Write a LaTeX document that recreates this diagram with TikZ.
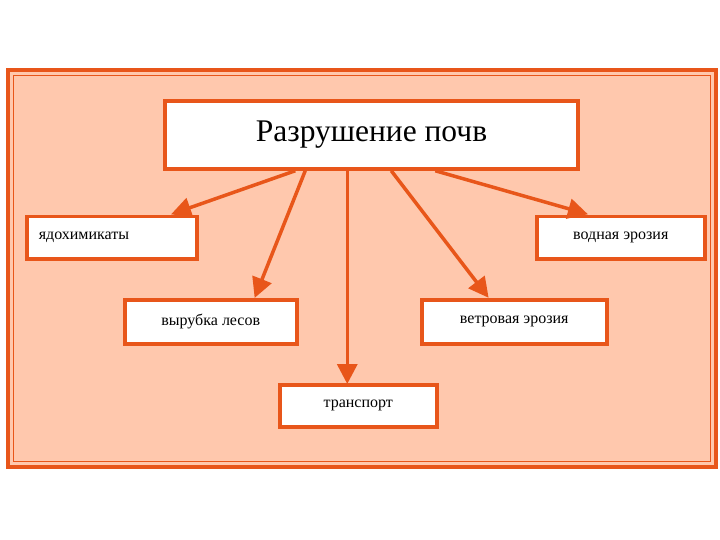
\documentclass[tikz,border=0pt]{standalone}
\usepackage{fontspec}
\setmainfont{Liberation Serif}
\usetikzlibrary{calc,arrows.meta}
\definecolor{peach}{HTML}{FFC8AD}
\definecolor{orng}{HTML}{E8561A}
\tikzset{
  box/.style={draw=orng, line width=3.5pt, fill=white, inner sep=0pt},
  small/.style={box, font=\fontsize{16}{18}\selectfont},
  arr/.style={draw=orng, line width=3.5pt, -{Triangle[length=20pt,width=20pt]}, shorten >=-1pt}
}
\begin{document}
\begin{tikzpicture}[x=1pt,y=-1pt]
\useasboundingbox (0,0) rectangle (720,540);
\fill[white] (0,0) rectangle (720,540);
\draw[orng, line width=3.5pt, fill=peach] (8,70) rectangle (716,467);
\draw[orng, line width=1.3pt] (13.5,75.5) rectangle (710.5,461.5);
\node[box, minimum width=413pt, minimum height=68pt, font=\fontsize{31.5}{34}\selectfont] (title) at (371.5,135) {Разрушение почв};
\node[small, minimum width=170pt, minimum height=42pt, anchor=north west, text width=146pt, align=left] (yad) at (25,215) {ядохимикаты};
\node[small, minimum width=168pt, minimum height=42pt, anchor=north west] (vod) at (535,215) {водная эрозия};
\node[small, minimum width=172pt, minimum height=44pt, anchor=north west] (vyr) at (123,298) {вырубка лесов};
\node[small, minimum width=185pt, minimum height=44pt, anchor=north west] (vet) at (420,298) {ветровая эрозия};
\node[small, minimum width=157pt, minimum height=42pt, anchor=north west] (tr) at (278,383) {транспорт};
\coordinate (s1) at ($(title.south west)+(132,0)$);
\coordinate (s2) at ($(title.south west)+(142,0)$);
\coordinate (s3) at ($(title.south west)+(184,0)$);
\coordinate (s4) at ($(title.south west)+(228,0)$);
\coordinate (s5) at ($(title.south west)+(272,0)$);
\draw[arr] (s1) -- ($(yad.north west)+(147,-1)$);
\draw[arr] (s2) -- ($(vyr.north west)+(132,-1)$);
\draw[arr] (s3) -- (s3 |- tr.north);
\draw[arr] (s4) -- ($(vet.north west)+(68,-1)$);
\draw[arr] (s5) -- ($(vod.north west)+(52,-1)$);
\end{tikzpicture}
\end{document}
